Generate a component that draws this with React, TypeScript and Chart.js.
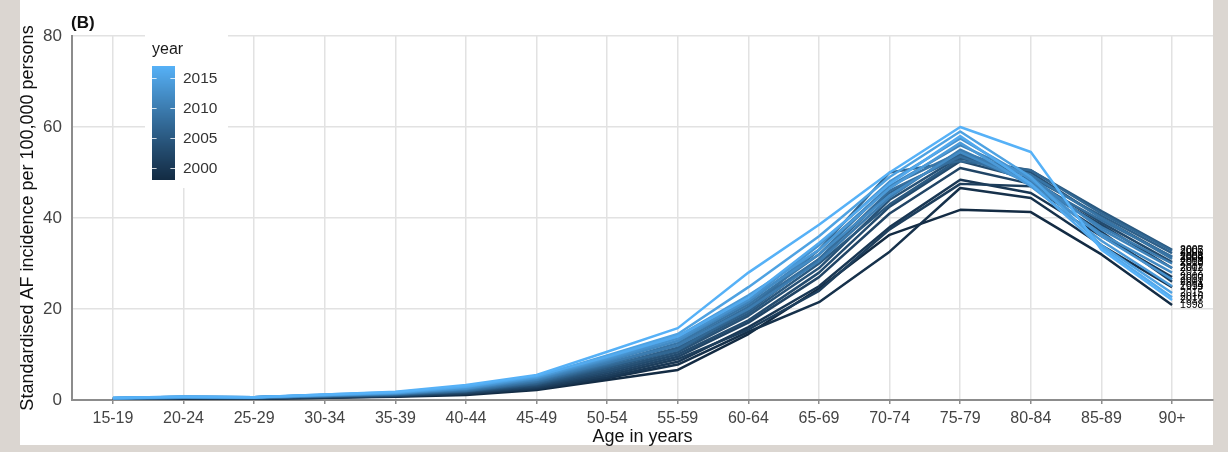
import React, { useEffect, useRef } from "react";
import { Chart, registerables } from "chart.js";

Chart.register(...registerables);

const ageGroups = ["15-19", "20-24", "25-29", "30-34", "35-39", "40-44", "45-49", "50-54", "55-59", "60-64", "65-69", "70-74", "75-79", "80-84", "85-89", "90+"];
const years = [1998, 1999, 2000, 2001, 2002, 2003, 2004, 2005, 2006, 2007, 2008, 2009, 2010, 2011, 2012, 2013, 2014, 2015, 2016, 2017];

const af1998 = [0.2, 0.3, 0.3, 0.5, 0.7, 1.1, 2.2, 4.4, 6.6, 14.5, 24.5, 36.3, 41.8, 41.3, 32.0, 20.9];
const af1999 = [0.3, 0.4, 0.3, 0.5, 0.8, 1.3, 2.4, 4.8, 7.8, 15.0, 21.5, 32.6, 46.6, 44.4, 34.0, 24.8];
const af2000 = [0.3, 0.4, 0.4, 0.6, 0.9, 1.4, 2.6, 5.0, 8.4, 16.0, 25.0, 38.0, 48.4, 45.5, 36.0, 27.0];
const af2001 = [0.2, 0.4, 0.4, 0.6, 0.9, 1.5, 2.8, 5.4, 9.0, 15.5, 24.0, 37.5, 47.5, 47.0, 37.0, 26.0];
const af2002 = [0.3, 0.5, 0.4, 0.7, 1.0, 1.6, 3.0, 5.8, 9.5, 17.0, 27.0, 41.0, 51.0, 47.5, 38.5, 29.0];
const af2003 = [0.3, 0.5, 0.4, 0.7, 1.0, 1.7, 3.2, 6.2, 10.0, 17.5, 28.0, 42.5, 52.5, 48.5, 39.0, 30.3];
const af2004 = [0.3, 0.5, 0.5, 0.8, 1.1, 1.8, 3.4, 6.6, 10.5, 18.5, 29.0, 44.0, 53.5, 50.0, 40.0, 31.4];
const af2005 = [0.3, 0.5, 0.5, 0.8, 1.1, 1.9, 3.5, 7.0, 11.0, 19.0, 30.0, 43.0, 53.0, 50.5, 41.5, 33.0];
const af2006 = [0.3, 0.5, 0.5, 0.8, 1.2, 2.0, 3.7, 7.3, 11.5, 19.5, 31.0, 45.5, 54.0, 49.0, 40.5, 32.3];
const af2007 = [0.3, 0.6, 0.5, 0.9, 1.2, 2.0, 3.9, 7.5, 11.0, 20.0, 33.0, 50.0, 52.5, 50.5, 41.0, 32.8];
const af2008 = [0.3, 0.6, 0.5, 0.9, 1.3, 2.1, 4.0, 7.8, 12.0, 20.5, 31.0, 46.0, 53.5, 48.0, 39.5, 31.5];
const af2009 = [0.4, 0.6, 0.5, 0.9, 1.3, 2.2, 4.2, 8.0, 12.5, 21.0, 32.0, 47.0, 54.5, 49.5, 40.0, 31.0];
const af2010 = [0.4, 0.6, 0.6, 1.0, 1.4, 2.3, 4.4, 8.2, 12.0, 20.0, 30.5, 44.5, 55.0, 48.0, 38.0, 30.0];
const af2011 = [0.4, 0.6, 0.6, 1.0, 1.4, 2.4, 4.5, 8.5, 13.0, 21.5, 33.0, 47.0, 56.0, 49.0, 37.5, 29.0];
const af2012 = [0.4, 0.6, 0.6, 1.0, 1.5, 2.5, 4.7, 8.8, 13.0, 22.0, 32.0, 45.0, 54.5, 47.5, 36.5, 28.0];
const af2013 = [0.4, 0.7, 0.6, 1.1, 1.5, 2.6, 4.9, 9.0, 13.5, 22.0, 34.0, 48.0, 57.5, 48.5, 36.0, 26.5];
const af2014 = [0.4, 0.7, 0.6, 1.1, 1.6, 2.8, 5.0, 9.3, 14.0, 23.0, 33.0, 46.5, 56.5, 47.0, 35.0, 25.0];
const af2015 = [0.5, 0.7, 0.6, 1.1, 1.6, 2.9, 5.2, 9.8, 14.5, 24.8, 36.0, 49.0, 59.0, 49.0, 34.0, 23.5];
const af2016 = [0.4, 0.7, 0.6, 1.2, 1.7, 3.0, 5.3, 9.5, 14.0, 22.5, 34.5, 47.5, 58.0, 47.5, 33.5, 22.6];
const af2017 = [0.5, 0.7, 0.6, 1.2, 1.8, 3.3, 5.5, 10.6, 15.8, 28.0, 38.5, 50.0, 60.0, 54.5, 33.0, 22.0];

const seriesByYear = [af1998, af1999, af2000, af2001, af2002, af2003, af2004, af2005, af2006, af2007, af2008, af2009, af2010, af2011, af2012, af2013, af2014, af2015, af2016, af2017];

const yTickValues = [0, 20, 40, 60, 80];
const legendBreaks = [2000, 2005, 2010, 2015];

const LOW = "#132B43";
const HIGH = "#56B1F7";
const FONT = "'Liberation Sans', Arial, Helvetica, sans-serif";

// ---- Lab colour interpolation (like ggplot's seq_gradient_pal) ----
function hexToRgb(h: string) {
  const n = parseInt(h.slice(1), 16);
  return [(n >> 16) & 255, (n >> 8) & 255, n & 255];
}
function toLab(hex: string) {
  const lin = hexToRgb(hex).map((v) => {
    const c = v / 255;
    return c <= 0.04045 ? c / 12.92 : Math.pow((c + 0.055) / 1.055, 2.4);
  });
  const [r, g, b] = lin;
  const X = (0.4124 * r + 0.3576 * g + 0.1805 * b) / 0.95047;
  const Y = 0.2126 * r + 0.7152 * g + 0.0722 * b;
  const Z = (0.0193 * r + 0.1192 * g + 0.9505 * b) / 1.08883;
  const f = (t: number) => (t > 0.008856 ? Math.cbrt(t) : 7.787 * t + 16 / 116);
  const fx = f(X), fy = f(Y), fz = f(Z);
  return [116 * fy - 16, 500 * (fx - fy), 200 * (fy - fz)];
}
function labToHex(L: number, a: number, bb: number) {
  const fy = (L + 16) / 116;
  const fx = fy + a / 500;
  const fz = fy - bb / 200;
  const inv = (f: number) => (f * f * f > 0.008856 ? f * f * f : (f - 16 / 116) / 7.787);
  const X = inv(fx) * 0.95047, Y = inv(fy), Z = inv(fz) * 1.08883;
  const rl = 3.2406 * X - 1.5372 * Y - 0.4986 * Z;
  const gl = -0.9689 * X + 1.8758 * Y + 0.0415 * Z;
  const bl = 0.0557 * X - 0.204 * Y + 1.057 * Z;
  const g = (c: number) => {
    const v = c <= 0.0031308 ? 12.92 * c : 1.055 * Math.pow(c, 1 / 2.4) - 0.055;
    return Math.max(0, Math.min(255, Math.round(v * 255)));
  };
  return `rgb(${g(rl)},${g(gl)},${g(bl)})`;
}
const labLow = toLab(LOW);
const labHigh = toLab(HIGH);
function yearColor(t: number) {
  return labToHex(
    labLow[0] + (labHigh[0] - labLow[0]) * t,
    labLow[1] + (labHigh[1] - labLow[1]) * t,
    labLow[2] + (labHigh[2] - labLow[2]) * t
  );
}
const minYear = years[0];
const maxYear = years[years.length - 1];
const colorForYear = (y: number) => yearColor((y - minYear) / (maxYear - minYear));

const decorPlugin = {
  id: "decor",
  beforeDraw(chart: any) {
    const ctx = chart.ctx;
    ctx.save();
    ctx.fillStyle = "#dbd6d1";
    ctx.fillRect(0, 0, chart.width, chart.height);
    ctx.fillStyle = "#ffffff";
    ctx.fillRect(20, 0, 1193, 445);
    ctx.restore();
  },
  afterDraw(chart: any) {
    const ctx = chart.ctx;
    const xs = chart.scales.x;
    const ys = chart.scales.y;
    ctx.save();
    // panel tag
    ctx.fillStyle = "#111";
    ctx.font = `bold 17px ${FONT}`;
    ctx.textAlign = "left";
    ctx.textBaseline = "alphabetic";
    ctx.fillText("(B)", 71, 28);

    // legend box
    ctx.fillStyle = "#ffffff";
    ctx.fillRect(145, 30, 83, 158);
    ctx.fillStyle = "#1a1a1a";
    ctx.font = `16px ${FONT}`;
    ctx.fillText("year", 152, 54);
    const barL = 152, barW = 23, barTop = 66, barBottom = 180;
    const yearToBarY = (yr: number) => barBottom - ((yr - minYear) / (maxYear - minYear)) * (barBottom - barTop);
    for (let py = barTop; py < barBottom; py++) {
      const t = 1 - (py + 0.5 - barTop) / (barBottom - barTop);
      ctx.fillStyle = yearColor(Math.max(0, Math.min(1, t)));
      ctx.fillRect(barL, py, barW, 1);
    }
    ctx.strokeStyle = "rgba(255,255,255,0.8)";
    ctx.lineWidth = 1;
    ctx.fillStyle = "#333";
    ctx.font = `15.5px ${FONT}`;
    ctx.textBaseline = "middle";
    legendBreaks.forEach((yr) => {
      const py = Math.round(yearToBarY(yr)) + 0.5;
      ctx.beginPath();
      ctx.moveTo(barL, py);
      ctx.lineTo(barL + 4.6, py);
      ctx.moveTo(barL + barW - 4.6, py);
      ctx.lineTo(barL + barW, py);
      ctx.stroke();
      ctx.fillText(String(yr), 183, py);
    });

    // end-of-line year labels
    ctx.fillStyle = "#000";
    ctx.font = `10.5px ${FONT}`;
    ctx.textBaseline = "middle";
    const lastIdx = ageGroups.length - 1;
    const lx = xs.getPixelForValue(lastIdx) + 8;
    years.forEach((yr, i) => {
      const v = seriesByYear[i][lastIdx];
      ctx.fillText(String(yr), lx, ys.getPixelForValue(v));
    });
    ctx.restore();
  },
};

export default function App() {
  const canvasRef = useRef<HTMLCanvasElement | null>(null);

  useEffect(() => {
    if (!canvasRef.current) return;
    const order = years.map((_, i) => i).reverse(); // latest years on top
    const datasets = order.map((i) => ({
      label: String(years[i]),
      data: seriesByYear[i].map((v, k) => ({ x: k, y: v })),
      borderColor: colorForYear(years[i]),
      backgroundColor: colorForYear(years[i]),
      borderWidth: 2.5,
      pointRadius: 0,
      pointHoverRadius: 0,
      tension: 0,
      fill: false,
      borderJoinStyle: "round" as const,
    }));

    const chart = new Chart(canvasRef.current, {
      type: "line",
      data: { datasets },
      options: {
        animation: false,
        responsive: false,
        devicePixelRatio: 1,
        layout: { padding: { top: 36, right: 15, left: 0, bottom: 0 } },
        plugins: { legend: { display: false }, tooltip: { enabled: false } },
        scales: {
          x: {
            type: "linear",
            min: -0.58,
            max: ageGroups.length - 1 + 0.58,
            afterBuildTicks: (s: any) => {
              s.ticks = ageGroups.map((_, i) => ({ value: i }));
            },
            afterFit: (s: any) => {
              s.height = 52;
            },
            ticks: {
              autoSkip: false,
              maxRotation: 0,
              padding: 5,
              color: "#444",
              font: { family: FONT, size: 16 },
              callback: (v: any) => ageGroups[Number(v)] ?? "",
            },
            grid: { color: "#e2e2e2", lineWidth: 1.5, drawTicks: true, tickLength: 4, tickColor: "#8c8c8c", tickWidth: 1.5 },
            border: { display: true, color: "#8c8c8c", width: 2 },
            title: { display: true, text: "Age in years", color: "#111", font: { family: FONT, size: 18 }, padding: { top: 0, bottom: 4 } },
          },
          y: {
            type: "linear",
            min: 0,
            max: 80,
            afterBuildTicks: (s: any) => {
              s.ticks = yTickValues.map((v) => ({ value: v }));
            },
            afterFit: (s: any) => {
              s.width = 72;
            },
            ticks: { padding: 10, color: "#444", font: { family: FONT, size: 17 } },
            grid: { color: "#e2e2e2", lineWidth: 1.5, drawTicks: false },
            border: { display: true, color: "#8c8c8c", width: 2 },
            title: {
              display: true,
              text: "Standardised AF incidence per 100,000 persons",
              color: "#111",
              font: { family: FONT, size: 18 },
              padding: { top: 17, bottom: 0 },
            },
          },
        },
      },
      plugins: [decorPlugin],
    } as any);
    return () => chart.destroy();
  }, []);

  return (
    <div style={{ position: "fixed", left: 0, top: 0, width: 1228, height: 452 }}>
      <canvas ref={canvasRef} width={1228} height={452} style={{ display: "block" }} />
    </div>
  );
}
